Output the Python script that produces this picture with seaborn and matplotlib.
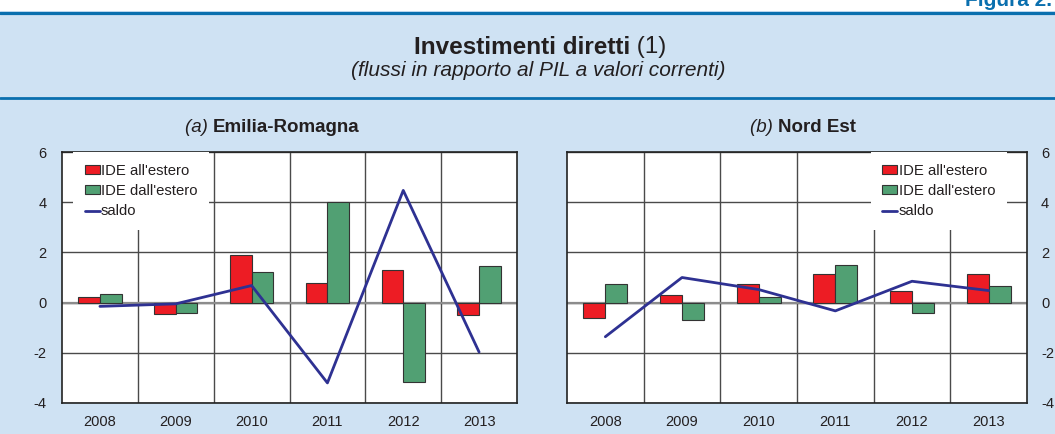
import numpy as np
import pandas as pd
import matplotlib
matplotlib.use("Agg")
import matplotlib.pyplot as plt
import seaborn as sns
from matplotlib.patches import Patch, Rectangle
from matplotlib.lines import Line2D
from matplotlib.text import Annotation

# ---------------- data ----------------
years = ["2008", "2009", "2010", "2011", "2012", "2013"]
er_estero = [0.21, -0.47, 1.89, 0.80, 1.30, -0.50]
er_dallestero = [0.35, -0.42, 1.22, 4.00, -3.18, 1.47]
er_saldo = [-0.15, -0.05, 0.68, -3.20, 4.47, -1.97]
ne_estero = [-0.62, 0.30, 0.74, 1.14, 0.45, 1.13]
ne_dallestero = [0.74, -0.70, 0.23, 1.48, -0.40, 0.65]
ne_saldo = [-1.36, 1.00, 0.52, -0.33, 0.85, 0.48]
series_names = ["IDE all'estero", "IDE dall'estero", "saldo"]
yticks = [-4, -2, 0, 2, 4, 6]

# ---------------- style ----------------
BG = "#cfe2f3"
BLUE = "#0a6fae"
RED = "#ed1c24"
GREEN = "#51a073"
NAVY = "#2e3192"
GRID = "#4a4a4a"
TXT = "#231f20"

sns.set_theme(style="white")
plt.rcParams["font.family"] = ["Liberation Sans", "DejaVu Sans"]
plt.rcParams["text.color"] = TXT

W, H = 1055, 434
fig = plt.figure(figsize=(W / 100, H / 100), dpi=100)
fig.patch.set_facecolor(BG)

# white strip on top, blue rules
fig.add_artist(Rectangle((0, 1 - 11 / H), 1, 11 / H, transform=fig.transFigure,
                         facecolor="white", edgecolor="none", zorder=1))
fig.text(1052 / W, 1 - 6 / H, "Figura 2.", ha="right", va="baseline",
         fontsize=15, weight="bold", color=BLUE, zorder=2)
fig.add_artist(Line2D([0, 1], [1 - 12.5 / H] * 2, transform=fig.transFigure,
                      color=BLUE, lw=2.3, zorder=3))
fig.add_artist(Line2D([0, 1], [1 - 98 / H] * 2, transform=fig.transFigure,
                      color=BLUE, lw=2.0, zorder=3))


def rich(x, y, first, second, size, style1, style2):
    """Draw two text runs side by side, first at (x, y) in figure pixels."""
    t = fig.text(x / W, 1 - y / H, first, ha="left", va="center", fontsize=size,
                 color=TXT, **style1)
    a = Annotation(second, xy=(1, 0), xycoords=t, ha="left", va="bottom",
                   fontsize=size, color=TXT, annotation_clip=False, **style2)
    fig.add_artist(a)
    return t, a


# titles
rich(414, 47, "Investimenti diretti", " (1)", 17.5, {"weight": "bold"}, {})
fig.text(538 / W, 1 - 71 / H, "(flussi in rapporto al PIL a valori correnti)",
         ha="center", va="center", fontsize=15, style="italic", color=TXT)


def panel(rect, estero, dall, saldo, letter, name, title_x, leg_x, right):
    ax = fig.add_axes(rect)
    df = pd.DataFrame({
        "anno": years * 2,
        "valore": list(estero) + list(dall),
        "serie": [series_names[0]] * len(years) + [series_names[1]] * len(years),
    })
    sns.barplot(data=df, x="anno", y="valore", hue="serie", palette=[RED, GREEN],
                width=0.57, edgecolor="#333333", linewidth=0.8, saturation=1,
                ax=ax, legend=False, zorder=3)
    sns.lineplot(x=years, y=saldo, color=NAVY, lw=2, ax=ax, zorder=4, sort=False)
    ax.axhline(0, color="#8c8c8c", lw=1.6, zorder=2)
    ax.set_xlim(-0.5, len(years) - 0.5)
    ax.set_ylim(yticks[0], yticks[-1])
    ax.set_yticks(yticks)
    ax.set_yticklabels([str(v) for v in yticks])
    ax.set_xticks(np.arange(0.5, len(years) - 1, 1), minor=True)
    ax.set_axisbelow(True)
    ax.grid(which="minor", axis="x", color=GRID, lw=1.0)
    ax.grid(which="major", axis="y", color=GRID, lw=1.0)
    ax.grid(which="major", axis="x", visible=False)
    ax.set_facecolor("white")
    for s in ax.spines.values():
        s.set_color("#222222")
        s.set_linewidth(1.2)
    ax.set_xlabel("")
    ax.set_ylabel("")
    ax.tick_params(which="both", length=0, labelsize=10.5, colors=TXT)
    ax.tick_params(axis="x", pad=9)
    if right:
        ax.yaxis.tick_right()
        ax.tick_params(axis="y", pad=10)
    else:
        ax.tick_params(axis="y", pad=11)
    handles = [Patch(facecolor=RED, edgecolor="#333333", lw=0.8),
               Patch(facecolor=GREEN, edgecolor="#333333", lw=0.8),
               Line2D([], [], color=NAVY, lw=2)]
    leg = ax.legend(handles, series_names, loc="upper left", bbox_to_anchor=(leg_x, 1.0),
                    borderaxespad=0, frameon=True, facecolor="white", edgecolor="none",
                    framealpha=1, fancybox=False, fontsize=10.7, handlelength=1.0,
                    handleheight=0.55, handletextpad=0.08, labelspacing=0.42,
                    borderpad=0.8)
    leg.set_zorder(5)
    rich(title_x, 127, letter + " ", name, 13.5, {"style": "italic"}, {"weight": "bold"})
    return ax


bottom = (H - 403) / H
height = 251 / H
panel([62 / W, bottom, 455 / W, height], er_estero, er_dallestero, er_saldo,
      "(a)", "Emilia-Romagna", 185, 0.024, False)
panel([567 / W, bottom, 460 / W, height], ne_estero, ne_dallestero, ne_saldo,
      "(b)", "Nord Est", 750, 0.66, True)

fig.savefig("out.png", dpi=100, facecolor=fig.get_facecolor())
